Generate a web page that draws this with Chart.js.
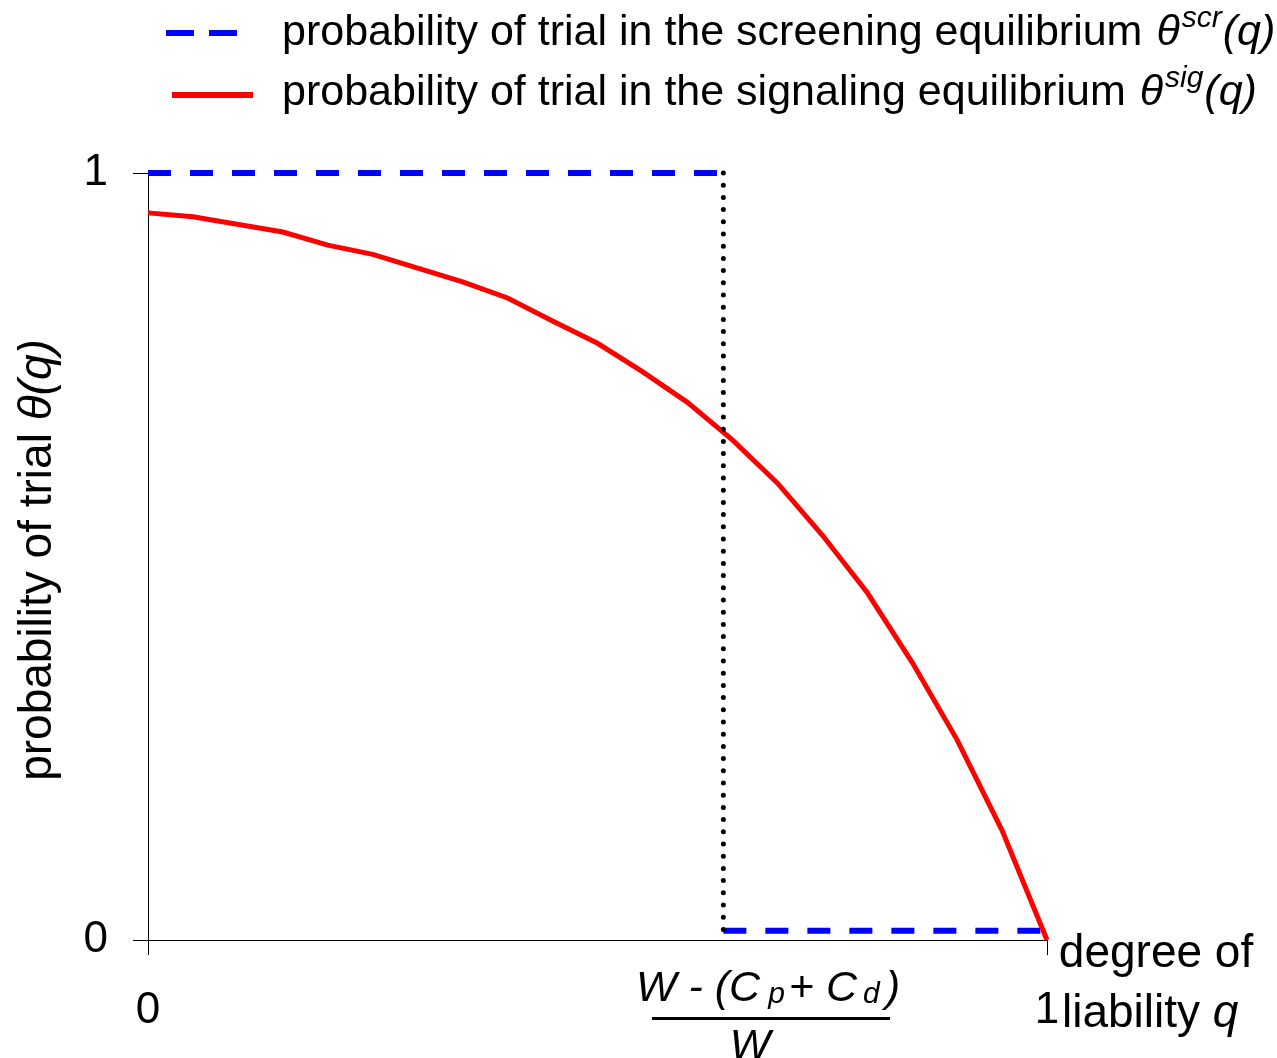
<!DOCTYPE html>
<html>
<head>
<meta charset="utf-8">
<script src="https://cdn.jsdelivr.net/npm/chart.js@4.4.1/dist/chart.umd.min.js"></script>
<style>
  html, body { margin: 0; padding: 0; background: #fff; }
</style>
</head>
<body>
<canvas id="myChart" width="1277" height="1058"></canvas>
<script>
// degree of liability q and probability of trial theta(q)
const qSignal = [0, 0.05, 0.15, 0.2, 0.25, 0.3, 0.35, 0.4, 0.45, 0.5, 0.55, 0.6, 0.65, 0.7, 0.75, 0.8, 0.85, 0.9, 0.95, 1];
const thetaSignal = [0.948, 0.943, 0.923, 0.906, 0.894, 0.876, 0.858, 0.837, 0.807, 0.778, 0.741, 0.701, 0.652, 0.596, 0.528, 0.453, 0.362, 0.261, 0.143, 0];

const qScreenHigh = [0, 0.64];
const thetaScreenHigh = [1, 1];
const qScreenLow = [0.64, 1];
const thetaScreenLow = [0.012, 0.012];

const qCutoff = [0.64, 0.64];
const thetaCutoff = [1, 0.012];

const xTicks = [0, 1];
const yTicks = [0, 1];

const FONT = "'Liberation Sans', Arial, sans-serif";
Chart.defaults.font.family = FONT;
Chart.defaults.color = '#000';

const pts = (xs, ys) => xs.map((x, i) => ({ x: x, y: ys[i] }));

// draws a run of text pieces, each with its own font and baseline shift
function drawRun(ctx, pieces, x, y) {
  let cx = x;
  pieces.forEach(p => {
    ctx.font = p.font;
    ctx.fillText(p.text, cx, y + (p.dy || 0));
    cx += ctx.measureText(p.text).width + (p.gap || 0);
  });
  return cx;
}
function runWidth(ctx, pieces) {
  let w = 0;
  pieces.forEach(p => {
    ctx.font = p.font;
    w += ctx.measureText(p.text).width + (p.gap || 0);
  });
  return w;
}

const labelsPlugin = {
  id: 'labels',
  afterDraw(chart) {
    const ctx = chart.ctx;
    ctx.save();
    ctx.fillStyle = '#000';
    ctx.textBaseline = 'alphabetic';
    ctx.textAlign = 'left';

    // legend
    ctx.lineCap = 'butt';
    ctx.strokeStyle = '#0000ff';
    ctx.lineWidth = 6;
    ctx.setLineDash([28, 15]);
    ctx.beginPath(); ctx.moveTo(166, 33); ctx.lineTo(238, 33); ctx.stroke();
    ctx.setLineDash([]);
    ctx.strokeStyle = '#ff0000';
    ctx.beginPath(); ctx.moveTo(172, 95); ctx.lineTo(253, 95); ctx.stroke();

    const n43 = '43px ' + FONT, i43 = 'italic 43px ' + FONT, i30 = 'italic 30px ' + FONT;
    drawRun(ctx, [
      { text: 'probability of trial in the screening equilibrium ', font: n43, gap: 2 },
      { text: 'θ', font: i43, gap: 2 },
      { text: 'scr', font: i30, dy: -18, gap: 1 },
      { text: '(q)', font: i43 }
    ], 282, 45);
    drawRun(ctx, [
      { text: 'probability of trial in the signaling equilibrium ', font: n43, gap: 2 },
      { text: 'θ', font: i43, gap: 2 },
      { text: 'sig', font: i30, dy: -18, gap: 1 },
      { text: '(q)', font: i43 }
    ], 282, 105);

    // y axis title
    const n46 = '46px ' + FONT, i46 = 'italic 46px ' + FONT;
    const yTitle = [
      { text: 'probability of trial ', font: n46 },
      { text: 'θ(q)', font: i46 }
    ];
    ctx.save();
    ctx.translate(51, 560);
    ctx.rotate(-Math.PI / 2);
    drawRun(ctx, yTitle, -runWidth(ctx, yTitle) / 2, 0);
    ctx.restore();

    // x axis title
    ctx.textAlign = 'center';
    ctx.font = n46;
    ctx.fillText('degree of', 1156, 967);
    ctx.textAlign = 'left';
    const xTitle2 = [
      { text: 'liability ', font: n46 },
      { text: 'q', font: i46 }
    ];
    drawRun(ctx, xTitle2, 1062, 1027);

    // cutoff label (W - (Cp + Cd)) / W
    const i43b = 'italic 43px ' + FONT, s30 = 'italic 30px ' + FONT;
    drawRun(ctx, [
      { text: 'W - (C', font: i43b, gap: 8 },
      { text: 'p', font: s30, dy: 2, gap: 4 },
      { text: '+ C', font: i43b, gap: 6 },
      { text: 'd', font: s30, dy: 2, gap: 6 },
      { text: ')', font: i43b }
    ], 636, 1001);
    ctx.fillRect(652, 1017, 238, 3);
    ctx.textAlign = 'center';
    ctx.font = i43b;
    ctx.fillText('W', 750, 1059);

    ctx.restore();
  }
};

const ctx = document.getElementById('myChart').getContext('2d');

const data = {
  datasets: [
    {
      label: 'cutoff',
      data: pts(qCutoff, thetaCutoff),
      borderColor: '#000',
      borderWidth: 5,
      borderDash: [0, 12.2],
      borderCapStyle: 'round',
    },
    {
      label: 'probability of trial in the signaling equilibrium',
      data: pts(qSignal, thetaSignal),
      borderColor: '#ff0000',
      borderWidth: 5,
    },
    {
      label: 'probability of trial in the screening equilibrium',
      data: pts(qScreenHigh, thetaScreenHigh),
      borderColor: '#0000ff',
      borderWidth: 6,
      borderDash: [23, 19],
    },
    {
      label: 'screening low',
      data: pts(qScreenLow, thetaScreenLow),
      borderColor: '#0000ff',
      borderWidth: 6,
      borderDash: [23, 19],
    },
  ],
};

const config = {
  type: 'scatter',
  data: data,
  options: {
    responsive: false,
    animation: false,
    showLine: true,
    clip: false,
    elements: {
      point: { radius: 0, hoverRadius: 0 },
      line: { tension: 0, fill: false },
    },
    layout: {
      padding: { left: 0, right: 230, top: 173, bottom: 0 },
    },
    plugins: {
      legend: { display: false },
      tooltip: { enabled: false },
    },
    scales: {
      x: {
        type: 'linear',
        min: 0,
        max: 1,
        afterBuildTicks: (s) => { s.ticks = xTicks.map(v => ({ value: v })); },
        afterFit: (s) => { s.height = 118; },
        ticks: {
          font: { size: 44 },
          color: '#000',
          padding: 29,
          maxRotation: 0,
          autoSkip: false,
        },
        grid: { drawOnChartArea: false, tickLength: 15, color: '#000', lineWidth: 1 },
        border: { display: true, color: '#000', width: 1 },
      },
      y: {
        type: 'linear',
        min: 0,
        max: 1,
        afterBuildTicks: (s) => { s.ticks = yTicks.map(v => ({ value: v })); },
        afterFit: (s) => { s.width = 148; },
        ticks: {
          font: { size: 44 },
          color: '#000',
          padding: 25,
          autoSkip: false,
        },
        grid: { drawOnChartArea: false, tickLength: 15, color: '#000', lineWidth: 1 },
        border: { display: true, color: '#000', width: 1 },
      },
    },
  },
  plugins: [labelsPlugin],
};

const myChart = new Chart(ctx, config);
</script>
</body>
</html>
